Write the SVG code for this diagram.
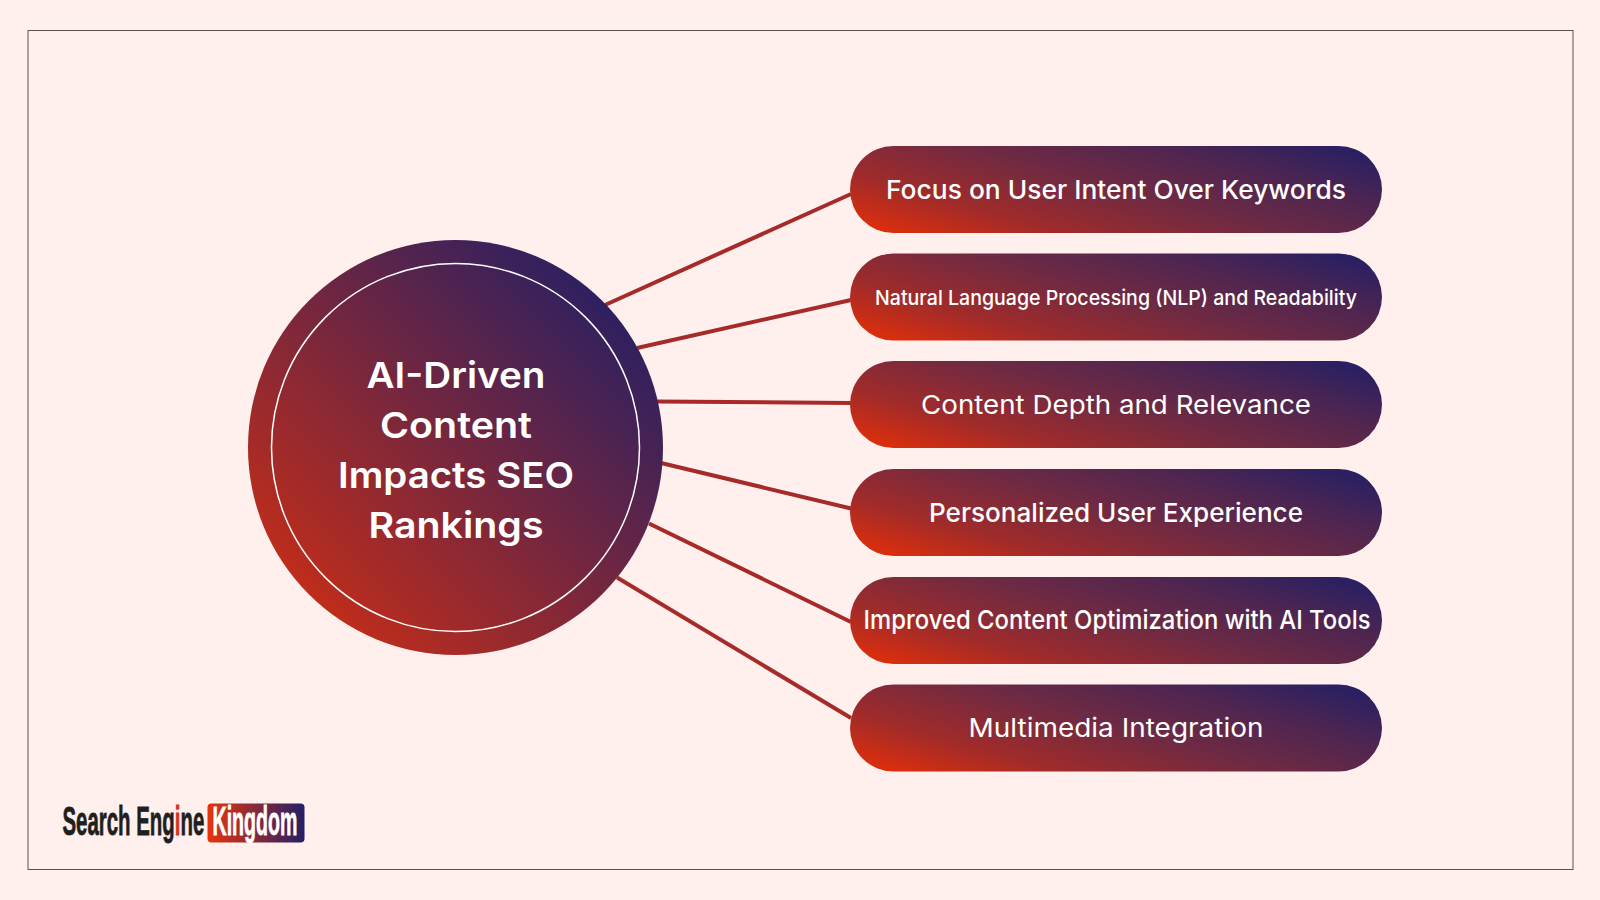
<svg xmlns="http://www.w3.org/2000/svg" xmlns:xlink="http://www.w3.org/1999/xlink" width="1600" height="900" viewBox="0 0 1600 900">
<style>
.pt{font-family:"Inter","Noto Sans",sans-serif;font-weight:500;font-size:26px;fill:#fff;text-anchor:middle}
.th{font-weight:400}
.ti{font-family:"Inter","Noto Sans",sans-serif;font-weight:600;font-size:36px;fill:#fff;text-anchor:middle}
.cn{stroke:#a52a28;stroke-width:4;fill:none}
.lg{font-family:"Liberation Sans",sans-serif;font-weight:700;font-size:41px}
</style>
<defs>
<linearGradient id="g"><stop offset="0.06" stop-color="#d82e0e"/><stop offset="0.25" stop-color="#a02b2a"/><stop offset="0.5" stop-color="#702a42"/><stop offset="0.75" stop-color="#4c2552"/><stop offset="0.94" stop-color="#2a2062"/></linearGradient>
<linearGradient id="gc" gradientUnits="userSpaceOnUse" x1="264" y1="639" x2="612" y2="290"><stop offset="0" stop-color="#d82e0e"/><stop offset="0.25" stop-color="#a82b26"/><stop offset="1" stop-color="#2a2062"/></linearGradient>
<linearGradient id="gp" xlink:href="#g" href="#g" x1="-0.092" y1="0.839" x2="1.092" y2="0.161"/>
<linearGradient id="gl"><stop offset="0" stop-color="#e8340c"/><stop offset="1" stop-color="#231f66"/></linearGradient>
</defs>
<rect width="1600" height="900" fill="#fff0ee"/>
<rect x="28" y="30.500" width="1545" height="839" fill="none" stroke="#5a5252" stroke-width="1"/>
<g id="connectors">
<line class="cn" x1="605" y1="305" x2="851" y2="194"/>
<line class="cn" x1="637" y1="348" x2="851" y2="300"/>
<line class="cn" x1="657" y1="401.500" x2="851" y2="403"/>
<line class="cn" x1="661" y1="463" x2="851" y2="508.500"/>
<line class="cn" x1="649" y1="523.500" x2="851" y2="622"/>
<line class="cn" x1="617" y1="577.500" x2="851" y2="718"/>
</g>
<g id="center">
<circle cx="455.500" cy="447.500" r="207.500" fill="url(#gc)"/>
<circle cx="455.500" cy="447.500" r="184" fill="none" stroke="#fff" stroke-width="1.500"/>
<text class="ti" x="456" y="388" textLength="179" lengthAdjust="spacingAndGlyphs">AI-Driven</text>
<text class="ti" x="456" y="438" textLength="152" lengthAdjust="spacingAndGlyphs">Content</text>
<text class="ti" x="456" y="488" textLength="236" lengthAdjust="spacingAndGlyphs">Impacts SEO</text>
<text class="ti" x="456" y="538" textLength="175" lengthAdjust="spacingAndGlyphs">Rankings</text>
</g>
<g id="node1"><rect x="850" y="146" width="532" height="87" rx="43.500" fill="url(#gp)"/><text class="pt" x="1116" y="198.500" textLength="460" lengthAdjust="spacingAndGlyphs">Focus on User Intent Over Keywords</text></g>
<g id="node2"><rect x="850" y="253.500" width="532" height="87" rx="43.500" fill="url(#gp)"/><text class="pt" x="1116" y="305" style="font-size:20.500px" textLength="482" lengthAdjust="spacingAndGlyphs">Natural Language Processing (NLP) and Readability</text></g>
<g id="node3"><rect x="850" y="361" width="532" height="87" rx="43.500" fill="url(#gp)"/><text class="pt th" x="1116" y="413.500" textLength="390" lengthAdjust="spacingAndGlyphs">Content Depth and Relevance</text></g>
<g id="node4"><rect x="850" y="469" width="532" height="87" rx="43.500" fill="url(#gp)"/><text class="pt" x="1116" y="521.500" textLength="374" lengthAdjust="spacingAndGlyphs">Personalized User Experience</text></g>
<g id="node5"><rect x="850" y="577" width="532" height="87" rx="43.500" fill="url(#gp)"/><text class="pt" x="1117" y="629" textLength="507" lengthAdjust="spacingAndGlyphs">Improved Content Optimization with AI Tools</text></g>
<g id="node6"><rect x="850" y="684.500" width="532" height="87" rx="43.500" fill="url(#gp)"/><text class="pt th" x="1116" y="737" textLength="295" lengthAdjust="spacingAndGlyphs">Multimedia Integration</text></g>
<g id="logo">
<rect x="207.500" y="803.500" width="97" height="39" rx="4" fill="url(#gl)"/>
<text class="lg" transform="translate(62.500 835) scale(0.498 1)" fill="#1f1f1f" stroke="#1f1f1f" stroke-width="0.800">Search Eng<tspan fill="#d8301a" stroke="#d8301a">i</tspan>ne</text>
<text class="lg" transform="translate(212.500 835) scale(0.478 1)" fill="#fff" stroke="#fff" stroke-width="0.800">Kingdom</text>
</g>
</svg>
